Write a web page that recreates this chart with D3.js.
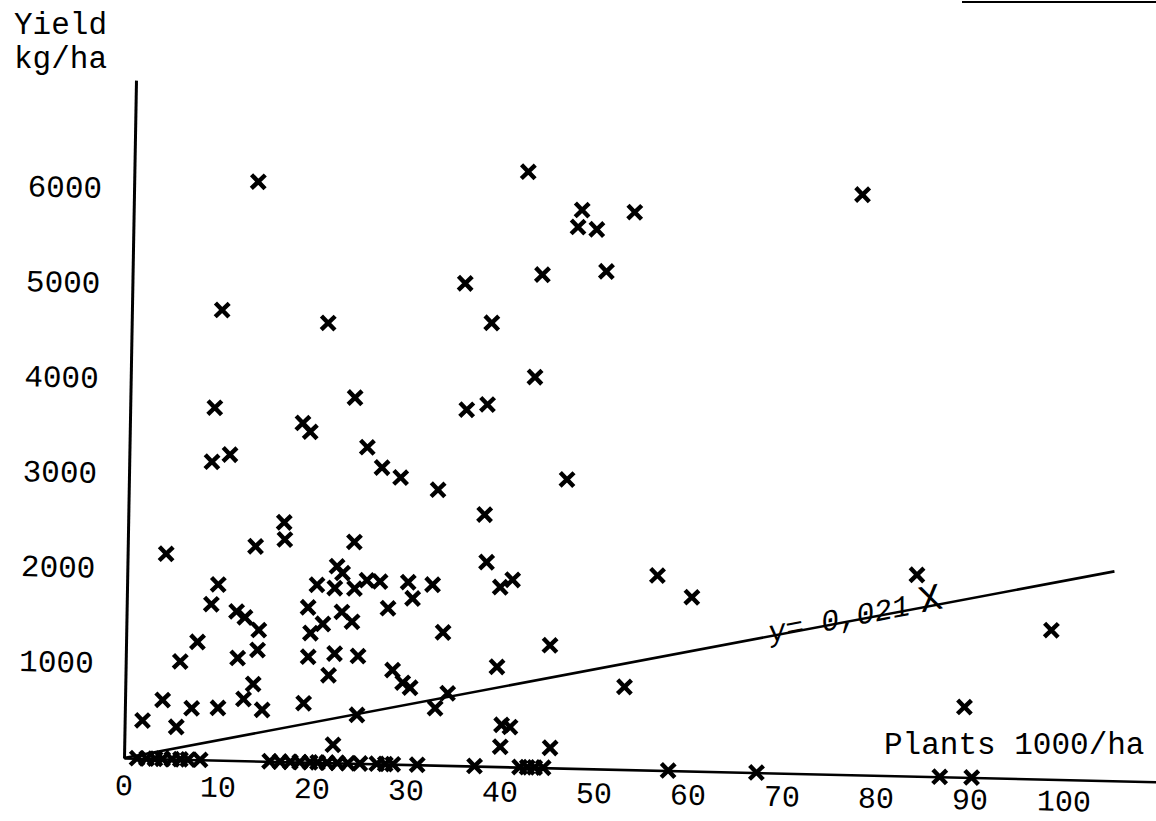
<!DOCTYPE html>
<html>
<head>
<meta charset="utf-8">
<script src="https://cdn.jsdelivr.net/npm/d3@7"></script>
<style>
  body { margin: 0; background: #fff; }
  text { font-family: "Liberation Mono", "DejaVu Sans Mono", monospace; fill: #000; }
</style>
</head>
<body>
<svg id="chart" width="1156" height="821"></svg>
<script>
// plant density (1000/ha) and yield (kg/ha)
var plants = [
  13.2, 41.9, 47.7, 47.3, 49.3, 53.3, 77.5, 43.6, 50.4, 35.4,
  38.3, 9.6, 20.9, 43.0, 9.0, 23.9, 35.8, 38.0, 18.4, 19.2,
  8.8, 10.7, 25.3, 26.9, 28.9, 46.6, 32.9, 37.9, 16.6, 16.7,
  13.6, 24.1, 4.1, 38.2, 22.3, 22.9, 56.4, 84.0, 9.7, 20.2,
  22.1, 24.2, 25.5, 26.9, 29.9, 30.4, 32.5, 39.7, 41.0, 60.1,
  9.0, 19.3, 27.8, 11.7, 12.6, 22.9, 24.0, 14.1, 20.9, 19.6,
  98.4, 33.7, 45.1, 11.9, 14.0, 5.8, 19.4, 22.2, 24.7, 7.6,
  39.5, 28.4, 29.5, 30.3, 21.6, 34.3, 53.1, 13.6, 12.6, 4.0,
  7.1, 9.9, 14.6, 19.0, 1.9, 5.5, 24.7, 33.0, 89.3, 40.1,
  41.0, 40.0, 45.3, 22.2
];
var yields = [
  6100, 6270, 5880, 5700, 5680, 5870, 6110, 5190, 5240, 5080,
  4670, 4740, 4630, 4110, 3710, 3850, 3750, 3810, 3570, 3480,
  3140, 3220, 3330, 3120, 3020, 3040, 2900, 2650, 2520, 2340,
  2260, 2330, 2160, 2150, 2070, 2000, 2050, 2120, 1850, 1870,
  1840, 1840, 1930, 1920, 1920, 1750, 1900, 1890, 1970, 1830,
  1640, 1630, 1640, 1570, 1510, 1590, 1490, 1380, 1460, 1360,
  1570, 1400, 1290, 1080, 1170, 1030, 1110, 1150, 1130, 1240,
  1050, 990, 860, 810, 920, 760, 870, 810, 650, 620,
  540, 550, 540, 620, 400, 340, 510, 600, 740, 440,
  420, 210, 210, 190
];
// fields that gave no yield at all
var zeroPlants = [
  1.4, 2.4, 3.3, 4.1, 5.1, 6.0, 6.8, 8.1, 15.5, 16.6, 17.7, 18.7, 19.8, 20.6,
  21.6, 22.7, 23.8, 25.1, 26.9, 27.8, 28.6, 31.2, 37.3, 42.1, 42.9, 43.7, 44.6,
  57.9, 67.3, 86.8, 90.2
];
var xTicks = [0, 10, 20, 30, 40, 50, 60, 70, 80, 90, 100];
var yTicks = [1000, 2000, 3000, 4000, 5000, 6000];
var slope = 21;      // y = 0,021 X  (X in plants/ha)
var lineEnd = 105;

var svg = d3.select('#chart');
var fs = 31;

// the scan is slightly turned, so the whole plot sits in a tilted frame
var frame = svg.append('g')
  .attr('transform', 'matrix(0.99974,0.023,-0.0177,0.99984,124,758)');

var x = d3.scaleLinear().domain([0, 110]).range([0, 1034]);
var y = d3.scaleLinear().domain([0, 7140]).range([0, -678]);

var xAxis = frame.append('g')
  .call(d3.axisBottom(x).tickValues(xTicks).tickFormat(d3.format('d'))
    .tickSize(0).tickSizeOuter(0).tickPadding(14));
xAxis.select('.domain').attr('stroke', '#000').attr('stroke-width', 2.6);
// typed labels drift less than the line does
xAxis.selectAll('text').attr('font-size', 30).attr('font-family', null)
  .attr('y', function(d) { return 16 - d * 0.06; });

var yAxis = frame.append('g')
  .call(d3.axisLeft(y).tickValues(yTicks).tickFormat(d3.format('d'))
    .tickSize(0).tickSizeOuter(0).tickPadding(32));
yAxis.select('.domain').attr('stroke', '#000').attr('stroke-width', 3);
yAxis.selectAll('text').attr('font-size', fs).attr('font-family', null);

// regression line
frame.append('path')
  .datum([0, lineEnd])
  .attr('fill', 'none')
  .attr('stroke', '#000')
  .attr('stroke-width', 2.6)
  .attr('d', d3.line().x(function(d) { return x(d); }).y(function(d) { return y(d * slope); }));

var points = plants.map(function(p, i) { return { p: p, v: yields[i] }; })
  .concat(zeroPlants.map(function(p) { return { p: p, v: 0 }; }));

var cross = d3.symbol().type(d3.symbolTimes).size(125);
frame.selectAll('path.pt')
  .data(points)
  .enter().append('path')
  .attr('class', 'pt')
  .attr('transform', function(d) { return 'translate(' + x(d.p) + ',' + y(d.v) + ')'; })
  .attr('d', cross)
  .attr('fill', 'none')
  .attr('stroke', '#000')
  .attr('stroke-width', 4.4);

// labels
svg.append('text').attr('x', 14).attr('y', 34).attr('font-size', fs).text('Yield');
svg.append('text').attr('x', 14).attr('y', 68).attr('font-size', fs).text('kg/ha');
svg.append('text').attr('x', 884).attr('y', 754).attr('font-size', fs).text('Plants 1000/ha');

var eq = svg.append('text')
  .attr('transform', 'translate(770,642) rotate(-11)')
  .attr('font-family', 'DejaVu Sans')
  .attr('font-style', 'italic')
  .attr('font-size', 30);
eq.append('tspan').text('y= 0,021');
eq.append('tspan').attr('dx', 10).attr('font-size', 38).attr('font-style', 'normal').text('X');

// rule at the top edge of the scan
svg.append('line')
  .attr('x1', 962).attr('x2', 1156).attr('y1', 2).attr('y2', 2)
  .attr('stroke', '#000').attr('stroke-width', 2);
</script>
</body>
</html>
